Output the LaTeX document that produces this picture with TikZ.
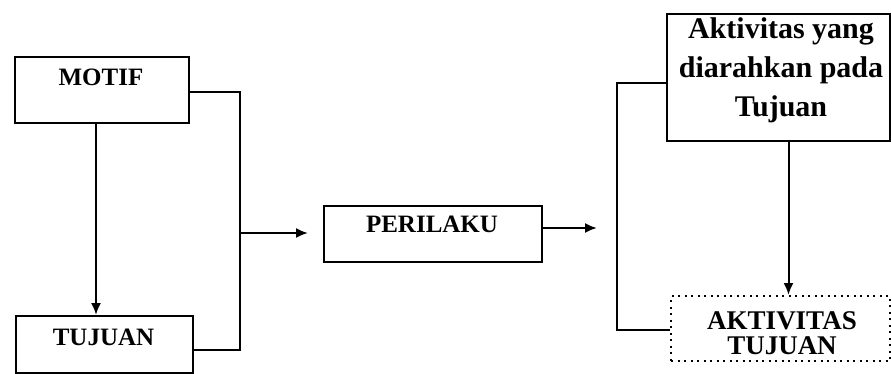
\documentclass[tikz,border=0pt]{standalone}
\usepackage{fontspec}
\setmainfont{Liberation Serif}
\usetikzlibrary{arrows.meta}
\begin{document}
\begin{tikzpicture}[x=1pt,y=-1pt,
  box/.style={draw, line width=2pt, inner sep=0pt, anchor=north west},
  dotbox/.style={box, dash pattern=on 2pt off 4.5pt},
  lbl/.style={font=\bfseries\fontsize{25}{25}\selectfont, inner sep=0pt},
  biglbl/.style={font=\bfseries\fontsize{30}{39}\selectfont, inner sep=0pt, align=center},
  conn/.style={line width=2pt},
  arr/.style={conn, -{Latex[length=12pt,width=10pt]}}]
\useasboundingbox (0,0) rectangle (891,374);
% boxes
\node[box, minimum width=174pt, minimum height=66pt] (motif) at (14,56) {};
\node[lbl, anchor=base] (motiftxt) at (101,86) {MOTIF};
\node[box, minimum width=177pt, minimum height=57pt] (tujuan) at (15,315) {};
\node[lbl, anchor=base] (tujuantxt) at (103.5,345) {TUJUAN};
\node[box, minimum width=218pt, minimum height=56pt] (perilaku) at (323,205) {};
\node[lbl, anchor=base] (perilakutxt) at (432,233) {PERILAKU};
\node[box, minimum width=223pt, minimum height=127pt] (akt) at (666,13) {};
\node[biglbl, anchor=north] (akttxt) at (781,17) {Aktivitas yang\\diarahkan pada\\Tujuan};
\node[dotbox, minimum width=219pt, minimum height=65pt] (dot) at (670,295) {};
\node[lbl, font=\bfseries\fontsize{27}{25}\selectfont, anchor=north, align=center] (dottxt) at (782,311) {AKTIVITAS\\TUJUAN};
% connectors
\coordinate (bt) at (240,92);
\coordinate (bb) at (240,350);
\coordinate (bm) at (240,233);
\coordinate (pe) at (597,228);
\coordinate (rt) at (617,83);
\coordinate (rb) at (617,330);
\draw[arr] ([xshift=-6pt]motif.south) -- ([xshift=-6pt]motif.south |- tujuan.north);
\draw[conn] (motif.east |- bt) -- (bt) -- (bb) -- (tujuan.east |- bb);
\draw[arr, shorten >=15pt] (bm) -- (bm -| perilaku.west);
\draw[arr] (perilaku.east |- pe) -- (pe);
\draw[conn] (akt.west |- rt) -- (rt) -- (rb) -- (dot.west |- rb);
\draw[arr] ([xshift=10pt]akt.south) -- ([xshift=10pt]akt.south |- dot.north);
\end{tikzpicture}
\end{document}
